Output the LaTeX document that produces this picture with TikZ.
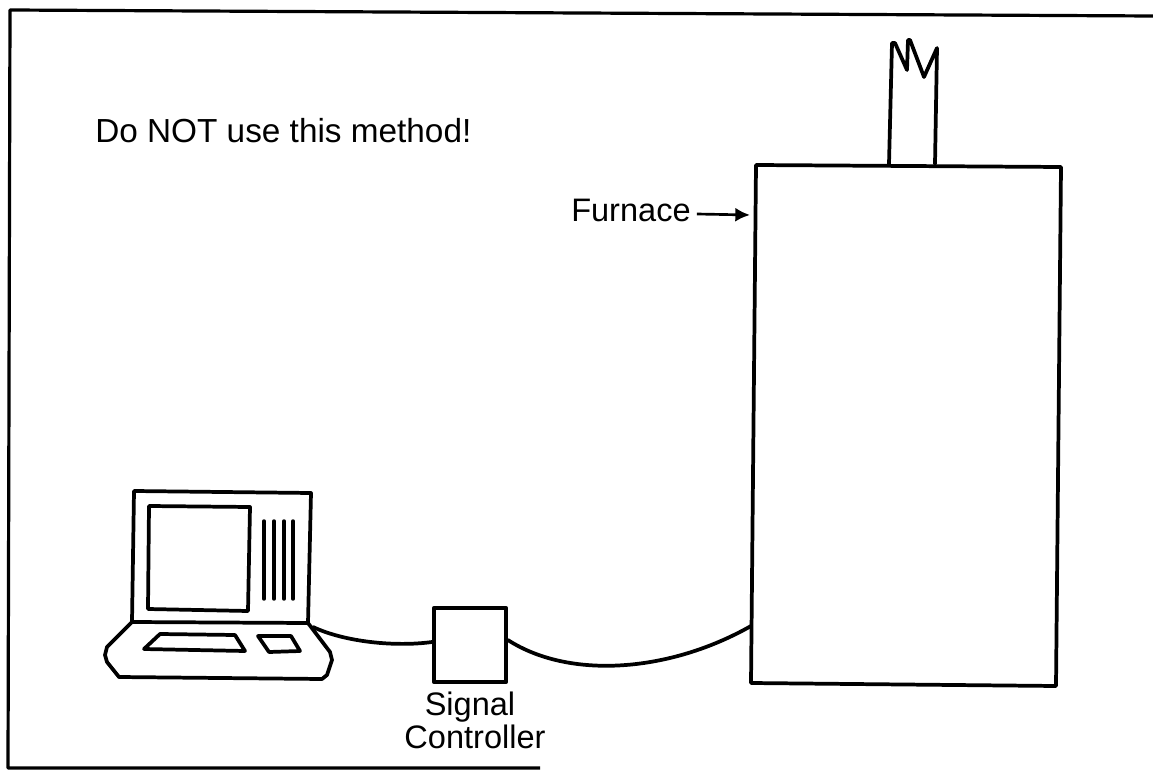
\documentclass[tikz,border=0pt]{standalone}
\usepackage{fontspec}
\setmainfont{Liberation Sans}
\usetikzlibrary{arrows.meta}
\tikzset{
  thick line/.style={line width=2.8pt,line join=round,line cap=round},
  frame line/.style={line width=2.4pt,line join=round},
  label text/.style={font=\fontsize{24.4}{26}\selectfont,inner sep=0pt},
}
\begin{document}
\begin{tikzpicture}[x=0.75pt,y=-0.75pt]
\useasboundingbox (0,0) rectangle (1153,770);
% frame
\draw[frame line] (540,768) -- (8,768) -- (10,10) -- (1153,16);
% furnace
\coordinate (fA) at (756,165);
\coordinate (fB) at (1061,167);
\coordinate (fC) at (1056,686);
\coordinate (fD) at (751,683);
\draw[thick line] (fA) -- (fB) -- (fC) -- (fD) -- cycle;
% chimney
\draw[thick line] (889,164) -- (892,43) -- (895,43) -- (907,70) -- (908,40) -- (910,40) -- (924,77) -- (937,48) -- (935,164);
% laptop
\draw[thick line] (134,491) -- (311,493) -- (308,623) -- (132,622) -- cycle;
\draw[thick line] (149,506) -- (250,507) -- (248,611) -- (148,609) -- cycle;
\foreach \a in {264,274,284,293}
  \draw[line width=2.6pt,line cap=round] (\a,521) -- (\a,599);
\draw[thick line] (132,622) -- (107,647) -- (105,655) -- (107,662) -- (119,677) -- (322,679) -- (327,675) -- (332,660) -- (330,652) -- (308,623);
\draw[thick line] (160,634) -- (235,635) -- (245,651) -- (144,649) -- cycle;
\draw[thick line] (258,636) -- (291,636) -- (300,651) -- (269,652) -- cycle;
% controller
\node[draw,line width=2.8pt,line join=round,minimum width=54pt,minimum height=56pt,inner sep=0pt] (ctrl) at (470,645) {};
% cables
\draw[thick line] (313,627) .. controls (345,642) and (395,647) .. (ctrl.west |- 0,642);
\draw[thick line] (ctrl.east |- 0,640) .. controls (570,680) and (670,672) .. (751,626);
% labels
\node[label text,font=\fontsize{25}{26}\selectfont,anchor=base west] (warn) at (95,143) {Do NOT use this method!};
\node[label text,anchor=base west] (flabel) at (571,222) {Furnace};
\coordinate (arrowEnd) at (750,215);
\draw[line width=2pt,-{Latex[length=11pt,width=10.5pt]}] (flabel.east |- 0,214) ++(6,0) -- (arrowEnd);
\node[label text,anchor=base] (signal) at (470,715) {Signal};
\node[label text,anchor=base] (controller) at (475,748) {Controller};
\end{tikzpicture}
\end{document}
